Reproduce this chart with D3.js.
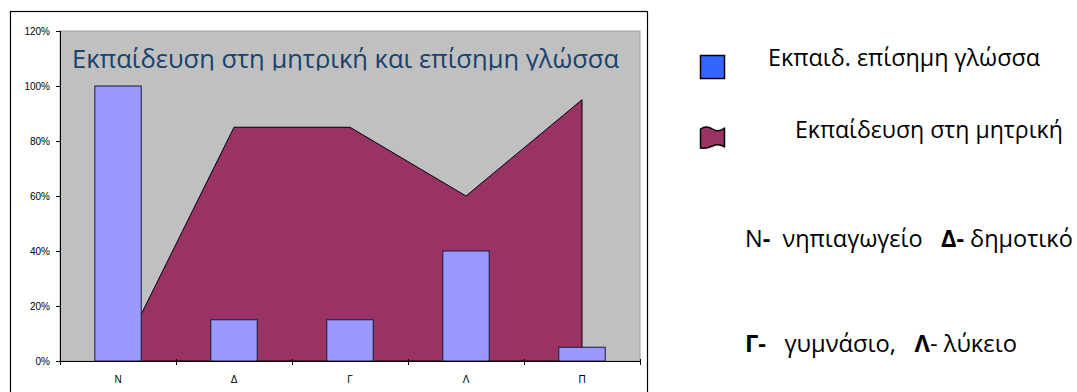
<!DOCTYPE html>
<html>
<head>
<meta charset="utf-8">
<script src="https://cdn.jsdelivr.net/npm/d3@7"></script>
<style>
  body { margin: 0; background: #fff; }
  svg { display: block; }
  .axis text { font-family: "Liberation Sans", Arial, sans-serif; font-size: 10px; fill: #000; }
  .axis path, .axis line { stroke: #000; }
</style>
</head>
<body>
<svg id="chart" width="1077" height="392"></svg>
<script>
// data
const categories = ['N', 'Δ', 'Γ', 'Λ', 'Π'];
const officialLang = [1.00, 0.15, 0.15, 0.40, 0.05];   // Εκπαιδ. επίσημη γλώσσα (bars)
const motherTongue = [0.00, 0.85, 0.85, 0.60, 0.95];   // Εκπαίδευση στη μητρική (area)
const yTicks = [0, 0.2, 0.4, 0.6, 0.8, 1.0, 1.2];

const title = 'Εκπαίδευση στη μητρική και επίσημη γλώσσα';
const legendLabels = ['Εκπαιδ. επίσημη γλώσσα', 'Εκπαίδευση στη μητρική'];

const svg = d3.select('#chart');

// dimension stuff
const plotLeft = 60;
const plotRight = 640;
const plotTop = 31;
const plotBottom = 361;
const nb = '\u00a0';

// helper: scale the font so the text ends up the wanted width
function fitWidth(sel, target) {
  const node = sel.node();
  const fs = parseFloat(sel.style('font-size'));
  const w = node.getComputedTextLength();
  sel.style('font-size', `${fs * target / w}px`);
}

// scales
const x = d3.scaleBand()
  .domain(categories)
  .range([plotLeft, plotRight])
  .paddingInner(0.6)
  .paddingOuter(0.3);

const y = d3.scaleLinear()
  .domain([0, 1.2])
  .range([plotBottom, plotTop]);

const step = x.step();
const center = c => x(c) + x.bandwidth() / 2;

// outer chart frame
svg.append('rect')
  .attr('x', 10.5).attr('y', 11.5)
  .attr('width', 637).attr('height', 400)
  .attr('fill', '#fff')
  .attr('stroke', '#000')
  .attr('stroke-width', 1.2);

// plot area
svg.append('rect')
  .attr('x', plotLeft).attr('y', plotTop)
  .attr('width', plotRight - plotLeft).attr('height', plotBottom - plotTop)
  .attr('fill', '#c0c0c0')
  .attr('stroke', '#a0a0a0')
  .attr('stroke-width', 1);

// area series
const areaPts = categories.map((c, i) => [center(c), y(motherTongue[i])]);
const first = areaPts[0], last = areaPts[areaPts.length - 1];
const poly = [[first[0], y(0)], ...areaPts, [last[0], y(0)]];

svg.append('path')
  .datum(poly)
  .attr('d', d => d3.line()(d) + 'Z')
  .attr('fill', '#993366')
  .attr('stroke', '#000')
  .attr('stroke-width', 1)
  .attr('stroke-linejoin', 'round');

// bars
svg.selectAll('.bar')
  .data(categories)
  .enter()
  .append('rect')
  .attr('class', 'bar')
  .attr('x', c => x(c))
  .attr('y', (c, i) => y(officialLang[i]))
  .attr('width', x.bandwidth())
  .attr('height', (c, i) => y(0) - y(officialLang[i]))
  .attr('fill', '#9999ff')
  .attr('stroke', '#1a1a33')
  .attr('stroke-width', 1);

// title, clipped at the bottom like in the original
svg.append('clipPath').attr('id', 'titleClip')
  .append('rect')
  .attr('x', plotLeft).attr('y', plotTop)
  .attr('width', plotRight - plotLeft).attr('height', 39.5);

svg.append('text')
  .attr('clip-path', 'url(#titleClip)')
  .attr('x', 72).attr('y', 68)
  .attr('textLength', 547)
  .attr('lengthAdjust', 'spacingAndGlyphs')
  .style('font-family', '"Open Sans", "Noto Sans", sans-serif')
  .style('font-size', '25px')
  .style('fill', '#17416e')
  .text(title);

// y axis
svg.append('g')
  .attr('class', 'axis')
  .attr('transform', `translate(${plotLeft},0)`)
  .call(d3.axisLeft(y).tickValues(yTicks).tickFormat(d3.format('.0%')).tickSize(4).tickPadding(6).tickSizeOuter(0))
  .call(g => g.select('.domain').attr('d', `M0.5,${plotTop}V${plotBottom}`));

// x axis (labels at category centres, ticks at band boundaries)
const xAxis = svg.append('g')
  .attr('class', 'axis')
  .attr('transform', `translate(0,${plotBottom})`);

xAxis.append('line')
  .attr('x1', plotLeft).attr('x2', plotRight)
  .attr('y1', 0.5).attr('y2', 0.5)
  .attr('stroke', '#000');

xAxis.selectAll('.xtick')
  .data(d3.range(categories.length + 1))
  .enter()
  .append('line')
  .attr('class', 'xtick')
  .attr('x1', i => Math.round(plotLeft + i * step) + 0.5)
  .attr('x2', i => Math.round(plotLeft + i * step) + 0.5)
  .attr('y1', -2).attr('y2', 4)
  .attr('stroke', '#000');

xAxis.selectAll('.xlabel')
  .data(categories)
  .enter()
  .append('text')
  .attr('class', 'xlabel')
  .attr('x', c => center(c))
  .attr('y', 22)
  .attr('text-anchor', 'middle')
  .text(c => c);

// legend
const legend = svg.append('g').attr('class', 'legend');

legend.append('rect')
  .attr('x', 700.5).attr('y', 55.5)
  .attr('width', 24).attr('height', 23)
  .attr('fill', '#3366ff')
  .attr('stroke', '#000')
  .attr('stroke-width', 1.5);

legend.append('path')
  .attr('d', 'M700.5,129 Q706.5,125 712.5,129 T724.5,128 L724.5,147 Q718.5,143 712.5,146 T700.5,148 Z')
  .attr('fill', '#993366')
  .attr('stroke', '#000')
  .attr('stroke-width', 1.5)
  .attr('stroke-linejoin', 'round');

const legendX = [768, 795];
const legendY = [66, 138];
const legendW = [272, 268];

legend.selectAll('.legend-label')
  .data(legendLabels)
  .enter()
  .append('text')
  .attr('class', 'legend-label')
  .attr('x', (d, i) => legendX[i])
  .attr('y', (d, i) => legendY[i])
  .style('font-family', '"Open Sans", "Noto Sans", sans-serif')
  .style('font-size', '20px')
  .style('fill', '#000')
  .text(d => d)
  .each(function (d, i) { fitWidth(d3.select(this), legendW[i]); });

// notes
const notes = svg.append('g')
  .style('font-family', '"Open Sans", "Noto Sans", sans-serif')
  .style('font-size', '19px')
  .style('fill', '#000');

const note1 = notes.append('text').attr('x', 745).attr('y', 247);
note1.append('tspan').text('Ν');
note1.append('tspan').style('font-weight', 'bold').text('-');
note1.append('tspan').text(`${nb}${nb}νηπιαγωγείο${nb}${nb}${nb}`);
note1.append('tspan').style('font-weight', 'bold').text('Δ-');
note1.append('tspan').text(`${nb}δημοτικό`);
fitWidth(note1, 328);

const note2 = notes.append('text').attr('x', 745).attr('y', 352);
note2.append('tspan').style('font-weight', 'bold').text('Γ-');
note2.append('tspan').text(`${nb}${nb}${nb}γυμνάσιο,${nb}${nb}${nb}`);
note2.append('tspan').style('font-weight', 'bold').text('Λ');
note2.append('tspan').text(`-${nb}λύκειο`);
fitWidth(note2, 272);
</script>
</body>
</html>
